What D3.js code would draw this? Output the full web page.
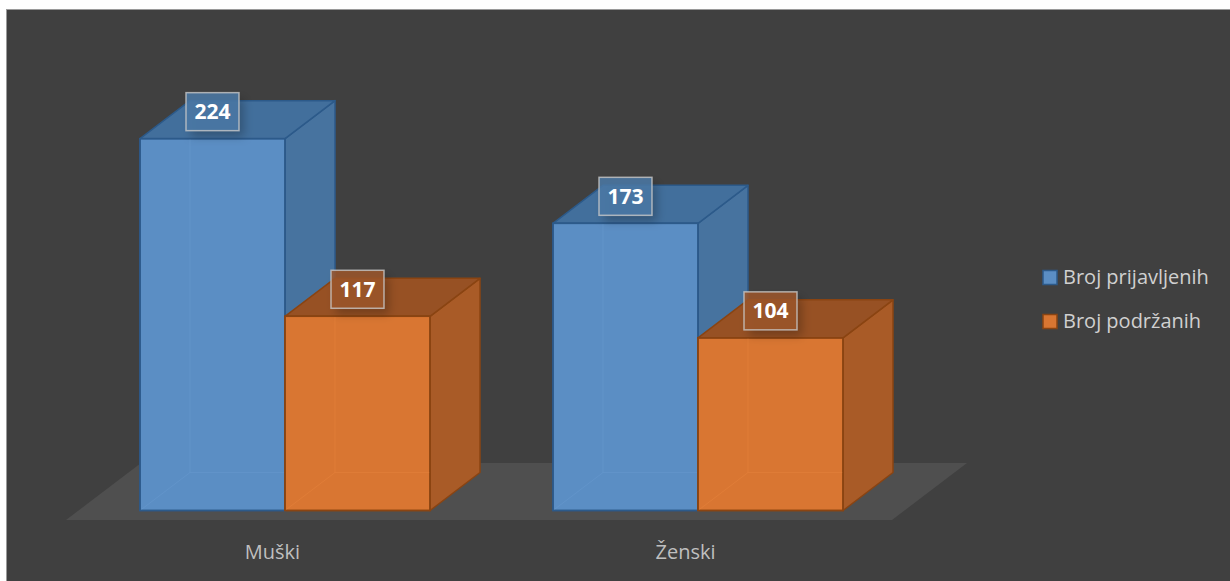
<!DOCTYPE html>
<html>
<head>
<meta charset="utf-8">
<script src="https://cdn.jsdelivr.net/npm/d3@7"></script>
<style>
  html, body { margin: 0; padding: 0; background: #ffffff; }
  svg { display: block; }
</style>
</head>
<body>
<svg id="chart" width="1230" height="581"></svg>
<script>
// ---- data ----
const categories = ["Muški", "Ženski"];
const seriesNames = ["Broj prijavljenih", "Broj podržanih"];
const prijavljeni = [224, 173];
const podrzani = [117, 104];
const seriesValues = [prijavljeni, podrzani];

// ---- styles ----
const palette = [
  { front: "#5b8ec4", top: "#426f9c", side: "#47739f", stroke: "#2c5a8a", inner: "#6a9bd0", label: "#4a78a6" },
  { front: "#d97632", top: "#975124", side: "#a95b27", stroke: "#8a4412", inner: "#e8853e", label: "#9c5628" }
];
const FONT = "'Open Sans', Lato, sans-serif";

const W = 1230, H = 581;
const svg = d3.select("#chart");

const defs = svg.append("defs");
const f = defs.append("filter").attr("id", "lblShadow").attr("x", "-40%").attr("y", "-40%").attr("width", "180%").attr("height", "180%");
f.append("feDropShadow").attr("dx", 5).attr("dy", 6).attr("stdDeviation", 5)
  .attr("flood-color", "#000").attr("flood-opacity", 0.28);

// chart area
svg.append("rect").attr("x", 6.5).attr("y", 9.5).attr("width", W).attr("height", H)
  .attr("fill", "#404040").attr("stroke", "#9a9a9a").attr("stroke-width", 1);

// ---- scales ----
const floorFrontY = 520;
const floorLeft = 66, floorRight = 892;
const x = d3.scaleBand().domain(categories).range([floorLeft, floorRight]).padding(0);
const groupW = 290;
const inner = d3.scaleBand().domain(seriesNames).range([0, groupW]).padding(0);
const floorDepth = { dx: 75, dy: -57 };
const barDepth = { dx: 50, dy: -38 };
const inset = { dx: (floorDepth.dx - barDepth.dx) / 2, dy: (floorDepth.dy - barDepth.dy) / 2 };
const baseY = floorFrontY + inset.dy;
const y = d3.scaleLinear().domain([0, 250]).range([baseY, baseY - 250 * 1.66]);

// ---- floor ----
const floorPts = [
  [floorLeft, floorFrontY], [floorRight, floorFrontY],
  [floorRight + floorDepth.dx, floorFrontY + floorDepth.dy],
  [floorLeft + floorDepth.dx, floorFrontY + floorDepth.dy]
];
svg.append("polygon").attr("points", floorPts.map(p => p.join(",")).join(" "))
  .attr("fill", "#4f4f4f");

// ---- bars ----
const bars = [];
categories.forEach((c, ci) => {
  seriesNames.forEach((s, si) => {
    const x0 = x(c) + (x.bandwidth() - groupW) / 2 + inset.dx + inner(s);
    const x1 = x0 + inner.bandwidth();
    const v = seriesValues[si][ci];
    bars.push({ c, s, si, v, x0, x1, yTop: y(v), yBot: y(0) });
  });
});

const gBars = svg.append("g");
bars.forEach(b => {
  const col = palette[b.si];
  const dx = barDepth.dx, dy = barDepth.dy;
  const g = gBars.append("g");
  const poly = pts => pts.map(p => p.join(",")).join(" ");
  g.append("polygon").attr("points", poly([[b.x1, b.yTop], [b.x1 + dx, b.yTop + dy], [b.x1 + dx, b.yBot + dy], [b.x1, b.yBot]]))
    .attr("fill", col.side).attr("stroke", col.stroke).attr("stroke-width", 1.5).attr("stroke-linejoin", "round");
  g.append("polygon").attr("points", poly([[b.x0, b.yTop], [b.x1, b.yTop], [b.x1 + dx, b.yTop + dy], [b.x0 + dx, b.yTop + dy]]))
    .attr("fill", col.top).attr("stroke", col.stroke).attr("stroke-width", 1.5).attr("stroke-linejoin", "round");
  g.append("rect").attr("x", b.x0).attr("y", b.yTop).attr("width", b.x1 - b.x0).attr("height", b.yBot - b.yTop)
    .attr("fill", col.front).attr("stroke", col.stroke).attr("stroke-width", 1.5);
  const hidden = [
    [[b.x0, b.yBot], [b.x0 + dx, b.yBot + dy]],
    [[b.x0 + dx, b.yBot + dy], [b.x1, b.yBot + dy]],
    [[b.x0 + dx, b.yBot + dy], [b.x0 + dx, b.yTop]]
  ];
  hidden.forEach(l => {
    g.append("line").attr("x1", l[0][0]).attr("y1", l[0][1]).attr("x2", l[1][0]).attr("y2", l[1][1])
      .attr("stroke", col.inner).attr("stroke-width", 1).attr("opacity", 0.45);
  });
  g.append("rect").attr("x", b.x0).attr("y", b.yTop).attr("width", b.x1 - b.x0).attr("height", b.yBot - b.yTop)
    .attr("fill", "none").attr("stroke", col.stroke).attr("stroke-width", 1.5);
});

// ---- value labels ----
const gLbl = svg.append("g");
bars.forEach(b => {
  const col = palette[b.si];
  const cx = (b.x0 + b.x1) / 2;
  const cy = b.yTop - 27;
  gLbl.append("rect").attr("x", cx - 26.5).attr("y", cy - 19).attr("width", 53).attr("height", 38)
    .attr("fill", col.label).attr("fill-opacity", 0.85)
    .attr("filter", "url(#lblShadow)");
  gLbl.append("rect").attr("x", cx - 26.5).attr("y", cy - 19).attr("width", 53).attr("height", 38)
    .attr("fill", "none").attr("stroke", "#c8c8c8").attr("stroke-opacity", 0.8).attr("stroke-width", 1.5);
  gLbl.append("text").attr("x", cx).attr("y", cy + 7.5)
    .attr("text-anchor", "middle").attr("font-family", FONT)
    .attr("font-weight", "bold").attr("font-size", 21).attr("fill", "#ffffff")
    .text(b.v);
});

// ---- category axis labels ----
svg.append("g").selectAll("text").data(categories).join("text")
  .attr("x", d => x(d) + x.bandwidth() / 2).attr("y", 559)
  .attr("text-anchor", "middle").attr("font-family", FONT)
  .attr("font-size", 20).attr("fill", "#bfbfbf")
  .text(d => d);

// ---- legend ----
const legend = svg.append("g");
seriesNames.forEach((s, i) => {
  const ly = 270 + i * 44;
  legend.append("rect").attr("x", 1043).attr("y", ly + 0.5).attr("width", 14).attr("height", 14)
    .attr("fill", palette[i].front).attr("stroke", palette[i].stroke).attr("stroke-width", 1.5);
  legend.append("text").attr("x", 1063).attr("y", ly + 14)
    .attr("font-family", FONT).attr("font-size", 20).attr("fill", "#d0d0d0")
    .text(s);
});
</script>
</body>
</html>
